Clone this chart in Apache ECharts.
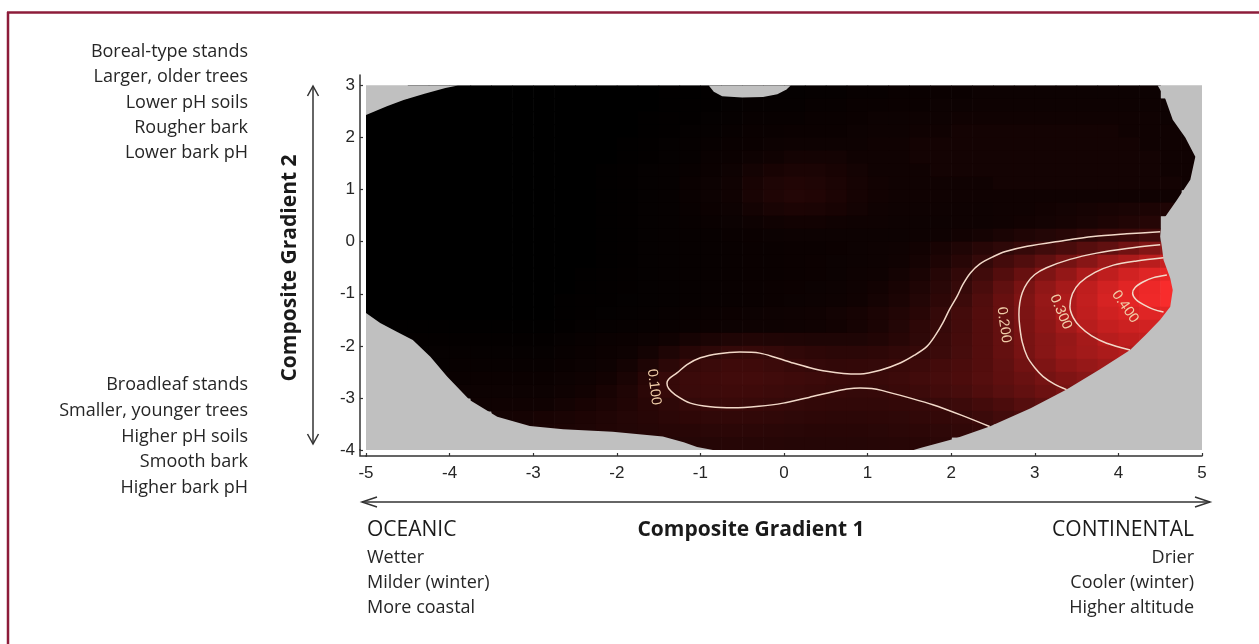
<!DOCTYPE html>
<html><head><meta charset="utf-8">
<script src="https://cdn.jsdelivr.net/npm/echarts@6/dist/echarts.min.js"></script>
<style>html,body{margin:0;padding:0;background:#fff}#c{width:1259px;height:644px}</style>
</head><body><div id="c"></div>
<script>
const N = null;
const xTicks = [-5,-4,-3,-2,-1,0,1,2,3,4,5];
const yTicks = [-4,-3,-2,-1,0,1,2,3];
const cellX = [-4.875,-4.625,-4.375,-4.125,-3.875,-3.625,-3.375,-3.125,-2.875,-2.625,-2.375,-2.125,-1.875,-1.625,-1.375,-1.125,-0.875,-0.625,-0.375,-0.125,0.125,0.375,0.625,0.875,1.125,1.375,1.625,1.875,2.125,2.375,2.625,2.875,3.125,3.375,3.625,3.875,4.125,4.375,4.625,4.875];
const cellY = [2.875,2.625,2.375,2.125,1.875,1.625,1.375,1.125,0.875,0.625,0.375,0.125,-0.125,-0.375,-0.625,-0.875,-1.125,-1.375,-1.625,-1.875,-2.125,-2.375,-2.625,-2.875,-3.125,-3.375,-3.625,-3.875];
const zRows = [
[N,N,0,0,0,0,0,0,0,0,0,0,0,0,.005,.005,.01,.01,.015,.015,.015,.02,.02,.025,.025,.03,.03,.035,.035,.04,.04,.04,.04,.04,.04,.04,.04,.04,N,N],
[0,0,0,0,0,0,0,0,0,0,0,0,0,0,.005,.01,.01,.015,.02,.02,.02,.025,.025,.03,.03,.035,.035,.04,.04,.045,.045,.045,.045,.045,.045,.045,.045,.045,.045,N],
[0,0,0,0,0,0,0,0,0,0,0,0,0,.005,.01,.01,.015,.02,.025,.025,.025,.03,.03,.035,.04,.04,.045,.045,.05,.05,.05,.05,.05,.05,.05,.05,.05,.05,.045,N],
[0,0,0,0,0,0,0,0,0,0,0,0,0,.005,.01,.015,.02,.025,.03,.03,.035,.035,.035,.04,.045,.045,.05,.05,.055,.055,.055,.055,.055,.055,.055,.055,.05,.05,.05,.045],
[0,0,0,0,0,0,0,0,0,0,0,0,.005,.01,.015,.02,.025,.03,.035,.04,.045,.045,.045,.045,.05,.05,.055,.055,.055,.055,.055,.055,.055,.055,.055,.055,.055,.05,.05,.05],
[0,0,0,0,0,0,0,0,0,0,0,0,.005,.01,.015,.02,.03,.035,.045,.05,.055,.055,.055,.05,.05,.05,.055,.055,.055,.055,.055,.055,.055,.055,.055,.055,.055,.055,.05,.05],
[0,0,0,0,0,0,0,0,0,0,0,.005,.01,.015,.02,.025,.035,.045,.055,.06,.065,.065,.06,.055,.05,.05,.05,.055,.055,.055,.055,.055,.055,.055,.055,.055,.055,.055,.05,.05],
[0,0,0,0,0,0,0,0,0,0,0,.005,.01,.015,.02,.03,.04,.05,.06,.068,.072,.07,.065,.058,.052,.05,.05,.05,.05,.05,.055,.055,.055,.055,.055,.055,.055,.055,.055,.05],
[0,0,0,0,0,0,0,0,0,0,0,.005,.01,.015,.02,.03,.04,.05,.062,.07,.075,.072,.066,.058,.052,.05,.05,.05,.05,.05,.05,.05,.05,.05,.05,.05,.05,.05,.05,N],
[0,0,0,0,0,0,0,0,0,0,0,.005,.01,.015,.02,.028,.036,.045,.055,.062,.066,.064,.06,.055,.05,.048,.048,.048,.048,.048,.05,.05,.052,.055,.058,.06,.063,.066,.07,N],
[0,0,0,0,0,0,0,0,0,0,0,.005,.01,.015,.02,.025,.03,.038,.045,.05,.053,.052,.05,.048,.046,.045,.045,.045,.046,.048,.05,.052,.055,.058,.062,.067,.072,.078,N,N],
[0,0,0,0,0,0,0,0,0,0,0,.005,.01,.015,.02,.022,.026,.03,.035,.038,.04,.04,.04,.04,.04,.042,.045,.048,.052,.057,.063,.07,.075,.08,.09,.10,.105,.115,N,N],
[0,0,0,0,0,0,0,0,0,0,0,.005,.01,.015,.02,.022,.025,.028,.03,.032,.034,.035,.037,.04,.043,.047,.053,.06,.07,.08,.09,.10,.115,.13,.15,.165,.19,.215,.24,N],
[0,0,0,0,0,0,0,0,0,0,0,.005,.01,.015,.02,.022,.025,.027,.03,.032,.034,.036,.038,.041,.045,.05,.057,.067,.08,.097,.12,.14,.165,.195,.225,.26,.285,.31,.335,N],
[0,0,0,0,0,0,0,0,0,0,.005,.01,.012,.015,.02,.022,.025,.027,.03,.032,.034,.036,.039,.043,.048,.055,.063,.077,.093,.115,.145,.175,.21,.245,.285,.32,.355,.385,.405,N],
[0,0,0,0,0,0,0,0,0,0,.005,.01,.012,.015,.02,.022,.025,.028,.03,.033,.036,.038,.042,.046,.052,.06,.07,.083,.10,.13,.165,.20,.24,.275,.32,.355,.39,.42,.45,N],
[0,0,0,0,0,0,0,0,0,.005,.008,.01,.013,.016,.02,.023,.026,.029,.032,.035,.038,.041,.045,.05,.057,.065,.075,.088,.11,.14,.175,.21,.25,.288,.325,.365,.393,.425,.455,N],
[0,0,0,0,0,0,0,0,0,.005,.01,.013,.016,.02,.024,.028,.032,.036,.04,.043,.046,.05,.054,.058,.064,.072,.082,.097,.12,.145,.175,.207,.245,.29,.32,.35,.37,.385,.395,N],
[.005,.005,.005,.005,.005,.005,.005,.005,.005,.01,.015,.02,.022,.025,.028,.032,.036,.04,.043,.045,.047,.05,.053,.058,.065,.075,.088,.10,.12,.145,.17,.203,.235,.27,.305,.33,.345,.355,N,N],
[N,.01,.012,.012,.012,.012,.012,.012,.012,.018,.024,.03,.035,.042,.05,.058,.065,.07,.072,.071,.07,.068,.068,.069,.073,.08,.09,.104,.124,.145,.17,.20,.225,.25,.275,.305,.32,.33,N,N],
[N,N,.015,.018,.018,.018,.018,.018,.018,.025,.03,.037,.045,.055,.068,.08,.09,.098,.10,.097,.092,.088,.086,.086,.088,.093,.099,.108,.125,.145,.17,.198,.225,.255,.27,.285,.30,N,N,N],
[N,N,N,.02,.025,.025,.025,.025,.025,.032,.038,.045,.055,.068,.085,.10,.107,.112,.112,.108,.102,.097,.095,.096,.098,.103,.11,.12,.132,.145,.165,.19,.21,.235,.25,.265,N,N,N,N],
[N,N,N,.03,.032,.035,.035,.035,.035,.04,.046,.053,.063,.08,.10,.108,.113,.117,.118,.116,.113,.109,.105,.103,.105,.11,.117,.125,.135,.148,.163,.178,.195,.212,.225,N,N,N,N,N],
[N,N,N,N,.04,.042,.042,.042,.042,.047,.053,.06,.07,.085,.10,.106,.11,.113,.113,.11,.106,.103,.10,.098,.099,.104,.11,.118,.127,.14,.155,.168,.183,.197,N,N,N,N,N,N],
[N,N,N,N,N,.048,.05,.05,.05,.055,.06,.066,.073,.082,.09,.097,.101,.104,.103,.10,.097,.095,.093,.093,.094,.096,.099,.103,.11,.12,.133,.148,.16,N,N,N,N,N,N,N],
[N,N,N,N,N,N,.055,.057,.06,.063,.067,.071,.076,.08,.085,.089,.092,.093,.093,.092,.09,.088,.087,.087,.088,.09,.093,.096,.099,.108,.118,.13,N,N,N,N,N,N,N,N],
[N,N,N,N,N,N,N,.06,.063,.066,.069,.072,.075,.078,.08,.082,.084,.085,.085,.084,.083,.082,.082,.082,.083,.085,.087,.09,.093,.097,N,N,N,N,N,N,N,N,N,N],
[N,N,N,N,N,N,N,N,N,N,N,N,N,N,.075,.077,.078,.079,.079,.079,.078,.078,.078,.078,.079,.08,.082,.085,N,N,N,N,N,N,N,N,N,N,N,N]
];
const maskTopLeft = [[-5,3],[-3.9,3],[-4.05,2.95],[-4.3,2.84],[-4.55,2.72],[-4.75,2.6],[-4.9,2.5],[-5,2.43]];
const maskNotch = [[-0.9,3],[-0.84,2.88],[-0.74,2.79],[-0.5,2.77],[-0.25,2.78],[-0.08,2.83],[0.03,2.92],[0.08,3]];
const maskBottomLeft = [[-5,-1.37],[-4.83,-1.56],[-4.62,-1.74],[-4.44,-1.89],[-4.23,-2.21],[-4.03,-2.59],[-3.76,-3.04],[-3.43,-3.36],[-3.04,-3.54],[-2.64,-3.6],[-2.05,-3.65],[-1.45,-3.74],[-1.2,-3.85],[-1.04,-3.94],[-0.85,-4],[-5,-4]];
const maskRight = [[4.47,3],[4.56,2.75],[4.65,2.34],[4.8,2.0],[4.92,1.63],[4.86,1.19],[4.7,0.8],[4.56,0.48],[4.51,0.25],[4.5,0.1],[4.52,-0.1],[4.54,-0.35],[4.62,-0.7],[4.65,-0.93],[4.62,-1.25],[4.5,-1.5],[4.33,-1.78],[4.14,-2.08],[3.78,-2.45],[3.38,-2.84],[2.95,-3.2],[2.46,-3.55],[2.05,-3.78],[1.63,-3.96],[1.55,-4],[5,-4],[5,3]];
// contour lines
const contour010 = [[4.5,0.19],[4.1,0.15],[3.7,0.1],[3.3,0.01],[2.91,-0.09],[2.65,-0.19],[2.5,-0.29],[2.34,-0.43],[2.23,-0.6],[2.14,-0.82],[2.07,-1.05],[1.98,-1.3],[1.9,-1.56],[1.81,-1.8],[1.71,-2.01],[1.56,-2.18],[1.39,-2.33],[1.15,-2.47],[0.91,-2.54],[0.71,-2.53],[0.51,-2.49],[0.31,-2.42],[0.11,-2.33],[-0.09,-2.23],[-0.29,-2.14],[-0.53,-2.12],[-0.78,-2.15],[-1.0,-2.23],[-1.16,-2.36],[-1.28,-2.52],[-1.38,-2.64],[-1.40,-2.72],[-1.38,-2.82],[-1.3,-2.94],[-1.12,-3.1],[-0.88,-3.17],[-0.61,-3.19],[-0.3,-3.16],[-0.01,-3.1],[0.3,-2.99],[0.59,-2.88],[0.75,-2.83],[0.91,-2.81],[1.05,-2.82],[1.18,-2.86],[1.48,-2.99],[1.78,-3.13],[2.12,-3.33],[2.46,-3.55]];
const contour020 = [[4.5,-0.06],[4.1,-0.13],[3.74,-0.22],[3.42,-0.34],[3.14,-0.5],[3.0,-0.63],[2.91,-0.79],[2.85,-0.98],[2.82,-1.18],[2.81,-1.4],[2.82,-1.63],[2.85,-1.93],[2.91,-2.21],[3.0,-2.42],[3.1,-2.59],[3.24,-2.74],[3.38,-2.84]];
const contour030 = [[4.54,-0.31],[4.22,-0.37],[3.94,-0.45],[3.72,-0.59],[3.54,-0.79],[3.45,-1.0],[3.42,-1.25],[3.46,-1.46],[3.54,-1.63],[3.68,-1.81],[3.86,-1.95],[4.14,-2.08]];
const contour040 = [[4.58,-0.64],[4.42,-0.69],[4.3,-0.77],[4.2,-0.88],[4.17,-0.99],[4.21,-1.11],[4.3,-1.21],[4.42,-1.3],[4.54,-1.35]];
const labelText = ['0.100','0.200','0.300','0.400'];
const labelPos = [[-1.555,-2.79],[2.63,-1.60],[3.31,-1.35],[4.08,-1.25]];
const labelAngle = [-83,-82,-67,-55];
const leftTopText = ['Boreal-type stands','Larger, older trees','Lower pH soils','Rougher bark','Lower bark pH'];
const leftBottomText = ['Broadleaf stands','Smaller, younger trees','Higher pH soils','Smooth bark','Higher bark pH'];
const oceanicText = ['Wetter','Milder (winter)','More coastal'];
const continentalText = ['Drier','Cooler (winter)','Higher altitude'];

const heatData = [];
zRows.forEach((row, r) => row.forEach((v, c) => { if (v !== null) heatData.push([cellX[c], cellY[r], v]); }));
const halfW = (cellX[1] - cellX[0]) / 2;
const halfH = (cellY[0] - cellY[1]) / 2;
const masks = [maskTopLeft, maskNotch, maskBottomLeft, maskRight];
const contours = [contour010, contour020, contour030, contour040];

const chart = echarts.init(document.getElementById('c'));
const TXT = '#262626';
const sans = '"Open Sans", sans-serif';
const axisFont = '"Liberation Sans", Arial, sans-serif';

const contourSeries = contours.map(c => ({
  type: 'line', data: c, symbol: 'none', smooth: 0.3, silent: true, z: 4,
  lineStyle: { color: '#f2d9c9', width: 1.5 }, animation: false
}));

chart.setOption({
  animation: false,
  backgroundColor: '#ffffff',
  grid: { left: 366, top: 75, width: 836, height: 375, containLabel: false },
  xAxis: {
    type: 'value', min: -5, max: 5, interval: 1, offset: 6, z: 10,
    axisLine: { onZero: false, lineStyle: { color: '#333', width: 1.5 } },
    axisTick: { inside: true, length: 3, lineStyle: { color: '#333', width: 1.2 } },
    axisLabel: { color: TXT, fontSize: 17, fontFamily: axisFont, margin: 9 },
    splitLine: { show: false }
  },
  yAxis: {
    type: 'value', min: -4, max: 3.2, interval: 1, offset: 6, z: 10,
    axisLine: { onZero: false, lineStyle: { color: '#333', width: 1.5 } },
    axisTick: { inside: true, length: 3, lineStyle: { color: '#333', width: 1.2 }, customValues: yTicks },
    axisLabel: { color: TXT, fontSize: 17, fontFamily: axisFont, margin: 5, customValues: yTicks },
    splitLine: { show: false }
  },
  visualMap: {
    type: 'continuous', show: false, min: 0, max: 0.45, dimension: 2, seriesIndex: 1,
    inRange: { color: ['#000000','#100202','#360909','#560e0e','#781313','#961818','#b41c1c','#cf2121','#e62626','#f82c2c'] }
  },
  series: [
    { type: 'custom', clip: true, silent: true, z: 1,
      data: [[-5, -4, 5, 3]], encode: { x: [0, 2], y: [1, 3] },
      renderItem: (p, api) => {
        const a = api.coord([api.value(0), api.value(3)]);
        const b = api.coord([api.value(2), api.value(1)]);
        return { type: 'rect', shape: { x: a[0], y: a[1], width: b[0] - a[0], height: b[1] - a[1] }, style: { fill: '#c0c0c0' } };
      } },
    { type: 'custom', clip: true, silent: true, z: 2,
      data: heatData, encode: { x: 0, y: 1 },
      renderItem: (p, api) => {
        const x = api.value(0), y = api.value(1);
        const a = api.coord([x - halfW, y + halfH]);
        const b = api.coord([x + halfW, y - halfH]);
        return { type: 'rect', shape: { x: a[0], y: a[1], width: b[0] - a[0] + 0.6, height: b[1] - a[1] + 0.6 }, style: { fill: api.visual('color') } };
      } },
    { type: 'custom', clip: true, silent: true, z: 3,
      data: masks.map((m, i) => [m[0][0], m[0][1], i]), encode: { x: 0, y: 1 },
      renderItem: (p, api) => {
        const m = masks[api.value(2)];
        return { type: 'polygon', shape: { points: m.map(pt => api.coord(pt)) }, style: { fill: '#c0c0c0' } };
      } },
    ...contourSeries,
    { type: 'custom', clip: true, silent: true, z: 5,
      data: labelPos.map((pt, i) => [pt[0], pt[1], i]), encode: { x: 0, y: 1 },
      renderItem: (p, api) => {
        const i = api.value(2);
        const c = api.coord([api.value(0), api.value(1)]);
        return { type: 'text', x: c[0], y: c[1], rotation: labelAngle[i] * Math.PI / 180,
          style: { text: labelText[i], fill: '#f0cda8', font: '14.5px "Liberation Sans", Arial, sans-serif', textAlign: 'center', textVerticalAlign: 'middle' } };
      } }
  ],
  graphic: [
    { type: 'line', shape: { x1: 7, y1: 12.5, x2: 1259, y2: 12.5 }, style: { stroke: '#8d1c3a', lineWidth: 2.5 } },
    { type: 'line', shape: { x1: 8, y1: 12, x2: 8, y2: 644 }, style: { stroke: '#8d1c3a', lineWidth: 2.5 } },
    { type: 'polyline', shape: { points: [[360, 449], [360, 456], [367, 456]] }, style: { stroke: '#333', fill: 'none', lineWidth: 1.5 } },
    { type: 'text', x: 248, y: 102.5, style: { text: leftTopText.join('\n'), font: '18px ' + sans, fill: TXT, textAlign: 'right', textVerticalAlign: 'middle', lineHeight: 25.3 } },
    { type: 'text', x: 248, y: 436.5, style: { text: leftBottomText.join('\n'), font: '18px ' + sans, fill: TXT, textAlign: 'right', textVerticalAlign: 'middle', lineHeight: 25.8 } },
    { type: 'text', x: 290, y: 268, rotation: Math.PI / 2, style: { text: 'Composite Gradient 2', font: 'bold 21px ' + sans, fill: '#1a1a1a', textAlign: 'center', textVerticalAlign: 'middle' } },
    { type: 'line', shape: { x1: 313, y1: 86, x2: 313, y2: 444 }, style: { stroke: '#333', lineWidth: 1.5 } },
    { type: 'polyline', shape: { points: [[307.5, 96], [313, 86], [318.5, 96]] }, style: { stroke: '#333', fill: 'none', lineWidth: 1.5 } },
    { type: 'polyline', shape: { points: [[307.5, 434], [313, 444], [318.5, 434]] }, style: { stroke: '#333', fill: 'none', lineWidth: 1.5 } },
    { type: 'line', shape: { x1: 362, y1: 502, x2: 1210, y2: 502 }, style: { stroke: '#333', lineWidth: 1.5 } },
    { type: 'polyline', shape: { points: [[377, 497], [362, 502], [377, 507]] }, style: { stroke: '#333', fill: 'none', lineWidth: 1.5 } },
    { type: 'polyline', shape: { points: [[1195, 497], [1210, 502], [1195, 507]] }, style: { stroke: '#333', fill: 'none', lineWidth: 1.5 } },
    { type: 'text', x: 751, y: 530, style: { text: 'Composite Gradient 1', font: 'bold 21px ' + sans, fill: '#1a1a1a', textAlign: 'center', textVerticalAlign: 'middle' } },
    { type: 'text', x: 367, y: 530, style: { text: 'OCEANIC', font: '21px ' + sans, fill: '#1a1a1a', textAlign: 'left', textVerticalAlign: 'middle' } },
    { type: 'text', x: 367, y: 583, style: { text: oceanicText.join('\n'), font: '18px ' + sans, fill: TXT, textAlign: 'left', textVerticalAlign: 'middle', lineHeight: 25 } },
    { type: 'text', x: 1194, y: 530, style: { text: 'CONTINENTAL', font: '21px ' + sans, fill: '#1a1a1a', textAlign: 'right', textVerticalAlign: 'middle' } },
    { type: 'text', x: 1194, y: 583, style: { text: continentalText.join('\n'), font: '18px ' + sans, fill: TXT, textAlign: 'right', textVerticalAlign: 'middle', lineHeight: 25 } }
  ]
});
</script>
</body></html>
